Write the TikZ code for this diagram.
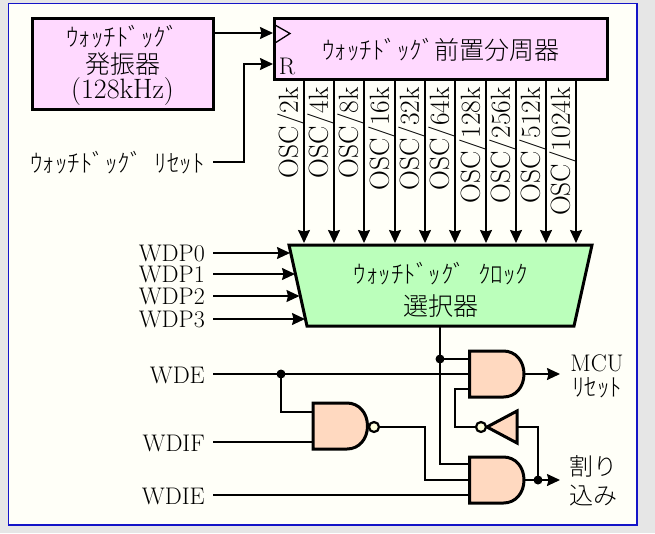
\documentclass[tikz,border=0pt]{standalone}
\usepackage{fontspec}
\usetikzlibrary{arrows.meta}
\newfontfamily\cjk{Noto Sans CJK JP Light}
\newcommand{\tlatin}{\fontsize{24}{26}\selectfont}
\newcommand{\tosc}{\fontsize{27.5}{30}\selectfont}
\newcommand{\tcjk}{\fontsize{25}{30}\selectfont\cjk}
\definecolor{ink}{HTML}{000000}
\definecolor{pagebg}{HTML}{E6E6E6}
\definecolor{panelbg}{HTML}{FFFFF8}
\definecolor{panelrule}{HTML}{1414C8}
\definecolor{pinkfill}{HTML}{FFD9FF}
\definecolor{greenfill}{HTML}{BBFFBB}
\definecolor{gatefill}{HTML}{FFD9C0}
\definecolor{bubblefill}{HTML}{FFFFDD}
\tikzset{
  x=1pt,y=-1pt,
  wire/.style={draw=ink,line width=1.5pt},
  arrowwire/.style={wire,-{Stealth[length=13pt,width=12pt,inset=1.5pt]}},
  heavy/.style={draw=black,line width=3pt,line join=miter},
  blockbox/.style={heavy,fill=pinkfill,inner sep=0pt,align=center},
  lab/.style={inner sep=0pt,text=ink},
  latinlab/.style={lab,font=\tlatin},
  osclab/.style={lab,font=\tosc,rotate=90,anchor=east},
  cjklab/.style={lab,font=\tcjk},
  joint/.style={circle,fill=black,inner sep=0pt,minimum size=9pt},
  bubble/.style={circle,draw=black,line width=2.2pt,fill=bubblefill,inner sep=0pt,minimum size=10pt},
  andbody/.pic={
    \draw[heavy,fill=gatefill] (0,0) -- (34,0) .. controls (46,0) and (54.5,10) .. (54.5,23)
      .. controls (54.5,36) and (46,46) .. (34,46) -- (0,46) -- cycle;
    \coordinate (-a) at (0,8);
    \coordinate (-m) at (0,23);
    \coordinate (-c) at (0,38);
    \coordinate (-out) at (54.5,23);
  }
}
\begin{document}
\begin{tikzpicture}
\useasboundingbox (0,0) rectangle (655,533);
\fill[pagebg] (0,0) rectangle (655,533);
\draw[draw=panelrule,fill=panelbg,line width=1.5pt] (8.5,3.5) rectangle (637,525);

% blocks
\node[blockbox,minimum width=181pt,minimum height=91pt] (osc) at (122.5,63.5) {};
\node[cjklab] (osct1) at (122.5,37) {ｳｫｯﾁﾄﾞｯｸﾞ};
\node[cjklab] (osct2) at (122.5,64) {発振器};
\node[lab,font=\fontsize{28}{30}\selectfont] (osct3) at (122.5,92) {(128kHz)};
\node[blockbox,minimum width=333pt,minimum height=61pt] (pre) at (440.5,48.5) {};
\node[cjklab] (pret) at (441,50) {ｳｫｯﾁﾄﾞｯｸﾞ前置分周器};
\draw[draw=black,line width=1.3pt] (275,25) -- (290,33.5) -- (275,43);
\node[lab,font=\fontsize{24}{26}\selectfont] (rlab) at (287,66) {R};

% selector
\draw[heavy,fill=greenfill] (289,245) -- (592,245) -- (574,326) -- (307,326) -- cycle;
\node[cjklab] (selt1) at (441,274) {ｳｫｯﾁﾄﾞｯｸﾞ\hspace{12pt}ｸﾛｯｸ};
\node[cjklab] (selt2) at (441,306) {選択器};

% top connectors
\coordinate (clk) at (273,33);
\coordinate (rin) at (273,64);
\node[cjklab,anchor=east] (rst) at (205,163) {ｳｫｯﾁﾄﾞｯｸﾞ\hspace{12pt}ﾘｾｯﾄ};
\coordinate (rstout) at (213,162);
\coordinate (oscout) at (213,33);
\draw[arrowwire] (oscout) -- (clk);
\draw[arrowwire] (rstout) -- (244,162) -- (244,64) -- (rin);

% divider taps
\foreach \xx/\t in {304/2k,334/4k,364/8k,395/16k,425/32k,455/64k,486/128k,516/256k,546/512k,576/1024k}{
  \coordinate (tapa\t) at (\xx,80);
  \coordinate (tapb\t) at (\xx,243);
  \draw[arrowwire] (tapa\t) -- (tapb\t);
  \node[osclab] (osc\t) at (\xx-13,87) {OSC/\t};
}

% WDP inputs
\foreach \n/\yy/\ex in {0/253/290,1/274/295,2/296/299.5,3/319/305}{
  \node[latinlab,anchor=east] (wdp\n) at (205,\yy) {WDP\n};
  \coordinate (wdpa\n) at (213,\yy);
  \coordinate (wdpb\n) at (\ex,\yy);
  \draw[arrowwire] (wdpa\n) -- (wdpb\n);
}

% gates
\pic (nand) at (313,403) {andbody};
\pic (upand) at (469.5,351) {andbody};
\pic (loand) at (469.5,457) {andbody};
\node[bubble] (nandb) at (374,427) {};
\draw[heavy,fill=gatefill] (517,411) -- (517,443) -- (487,427) -- cycle;
\node[bubble] (invb) at (481,427) {};

% lower labels
\node[latinlab,anchor=east] (wde) at (205,375) {WDE};
\node[latinlab,anchor=east] (wdif) at (205,443) {WDIF};
\node[latinlab,anchor=east] (wdie) at (205,496) {WDIE};
\coordinate (wdes) at (213,374);
\coordinate (wdifs) at (213,442);
\coordinate (wdies) at (213,495);
\node[latinlab] (mcu) at (597,363) {MCU};
\node[cjklab] (mcur) at (597,388) {ﾘｾｯﾄ};
\node[lab,font=\fontsize{24}{28}\selectfont\cjk,anchor=west] (irq1) at (569,466) {割り};
\node[lab,font=\fontsize{24}{28}\selectfont\cjk,anchor=west] (irq2) at (569,496) {込み};

% logic wiring
\coordinate (j1) at (281,374);
\coordinate (selout) at (440,326);
\coordinate (j2) at (440,359);
\coordinate (j3) at (538,480);
\coordinate (mcuend) at (560,374);
\coordinate (irqend) at (560,480);
\draw[wire] (wdes) -- (upand-m);
\draw[wire] (j1) -- (281,412) -- (313,412);
\draw[wire] (wdifs) -- (313,442);
\draw[wire] (wdies) -- (469.5,495);
\draw[wire] (nandb.east) -- (425,427) -- (425,480) -- (469.5,480);
\draw[wire] (selout) -- (440,464) -- (469.5,464);
\draw[wire] (j2) -- (469.5,359);
\draw[wire] (469.5,389) -- (455,389) -- (455,427) -- (invb.west);
\draw[wire] (517,427) -- (538,427) -- (j3);
\draw[arrowwire] (upand-out) -- (mcuend);
\draw[arrowwire] (loand-out) -- (irqend);
\node[joint] (dot1) at (j1) {};
\node[joint] (dot2) at (j2) {};
\node[joint] (dot3) at (j3) {};
\end{tikzpicture}
\end{document}
